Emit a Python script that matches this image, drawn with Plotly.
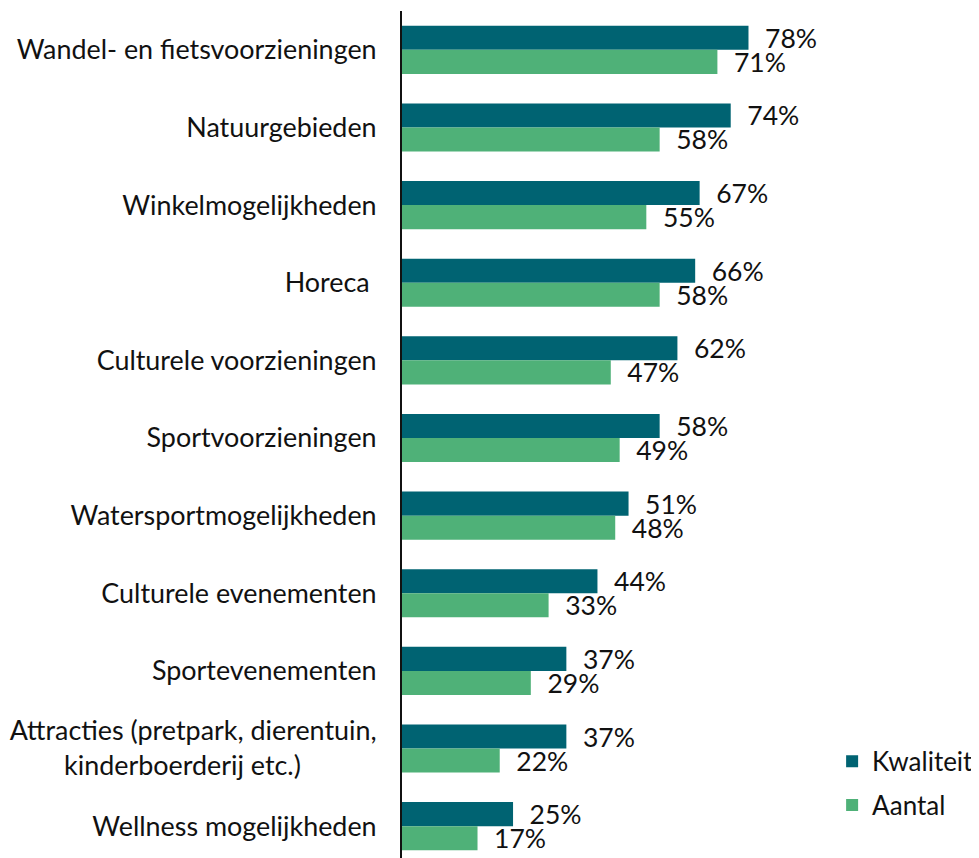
import plotly.graph_objects as go

categories = [
    "Wandel- en fietsvoorzieningen",
    "Natuurgebieden",
    "Winkelmogelijkheden",
    "Horeca\u00a0",
    "Culturele voorzieningen",
    "Sportvoorzieningen",
    "Watersportmogelijkheden",
    "Culturele evenementen",
    "Sportevenementen",
    "Attracties (pretpark, dierentuin,<br>kinderboerderij etc.)" + "\u00a0" * 11,
    "Wellness mogelijkheden",
]
kwaliteit = [78, 74, 67, 66, 62, 58, 51, 44, 37, 37, 25]
aantal = [71, 58, 55, 58, 47, 49, 48, 33, 29, 22, 17]
series_names = ["Kwaliteit", "Aantal"]
colors = ["#006372", "#4fb178"]

FS = 26.5
pad = "\u00a0\u00a0"
fig = go.Figure()
for i, (name, vals) in enumerate(zip(series_names, [kwaliteit, aantal])):
    fig.add_trace(go.Bar(
        y=categories, x=vals, orientation="h", name=name,
        marker=dict(color=colors[i], line=dict(width=0)),
        text=[f"{pad}{v}%" for v in vals], textposition="outside",
        constraintext="none", cliponaxis=False,
        textfont=dict(family="Lato", size=FS, color="#111"),
        legendgroup=name,
    ))

fig.update_layout(
    width=971, height=850,
    margin=dict(l=394, r=139, t=3, b=0, autoexpand=False),
    barmode="group", bargap=0.38, bargroupgap=0,
    plot_bgcolor="white", paper_bgcolor="white",
    font=dict(family="Lato", size=FS, color="#111"),
    showlegend=True,
    legend=dict(x=0.982, y=0.142, xanchor="left", yanchor="top",
                traceorder="grouped", tracegroupgap=7,
                font=dict(family="Lato", size=26, color="#111"),
                itemwidth=30),
    xaxis=dict(range=[0, 98.6], visible=False, showgrid=False, zeroline=False),
    yaxis=dict(categoryorder="array", categoryarray=categories,
               range=[10.41, -0.5], showline=True, linecolor="#111", linewidth=2,
               showgrid=False, zeroline=False, ticks="", ticklabelstandoff=18,
               tickfont=dict(family="Lato", size=26.9, color="#111")),
)
fig.write_html("out.html")
